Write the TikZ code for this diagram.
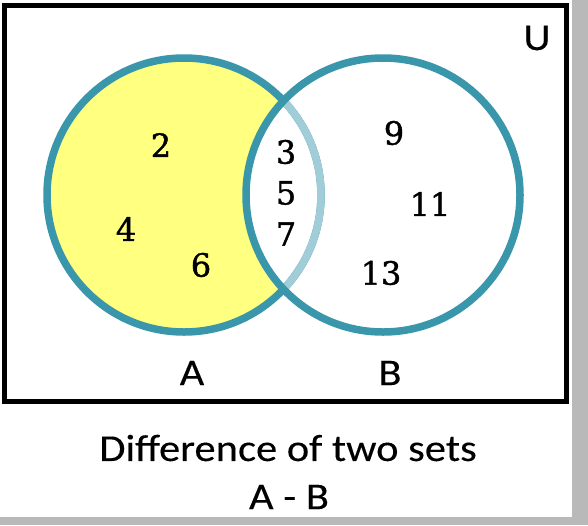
\documentclass[tikz,border=0pt]{standalone}
\usepackage{fontspec}
\setmainfont{Carlito}
\newfontfamily\numfont[FakeBold=1.2]{DejaVu Serif}
\newfontfamily\capfont[FakeStretch=1.12,FakeBold=0.2]{Carlito}
\usepackage{tikz}
\usetikzlibrary{positioning,calc}
\definecolor{setteal}{RGB}{58,150,170}
\definecolor{setlight}{RGB}{160,205,215}
\definecolor{setyellow}{RGB}{255,255,128}
\tikzset{elem/.style={font=\numfont\fontsize{32}{32}\selectfont,inner sep=0pt},
  lbl/.style={font=\capfont\fontsize{38}{38}\selectfont,inner sep=0pt},
  setring/.style={draw=setteal,line width=7.5pt}}

\begin{document}
\begin{tikzpicture}[x=1pt,y=-1pt]
    % page with its shadow
    \fill[gray!55] (0,0) rectangle (588,525);
    \fill[white] (0,0) rectangle (572,517);
    \draw[line width=5pt] (4.5,5) rectangle (566,401);

    \coordinate (cA) at (184,195);
    \coordinate (cB) at (383,195);
    \fill[setyellow] (cA) circle (137pt);
    \fill[white] (cB) circle (137pt);
    \draw[setring] (cA) circle (137pt);
    \begin{scope}
      \clip (cB) circle (137pt);
      \draw[setring,draw=setlight] (cA) circle (137pt);
    \end{scope}
    \draw[setring] (cB) circle (137pt);

    \node[elem] (n2) at (161,145) {2};
    \node[elem] (n4) at (126,229) {4};
    \node[elem] (n6) at (201,265) {6};
    \node[elem] (n3) at (286,152) {3};
    \node[elem] (n5) at (286,193) {5};
    \node[elem] (n7) at (286,234) {7};
    \node[elem] (n9) at (394,133) {9};
    \node[elem] (n11) at (430,204) {11};
    \node[elem] (n13) at (381,273) {13};

    \node[lbl] (U) at (537,38) {U};
    \node[lbl] (A) at (192,373) {A};
    \node[lbl] (B) at (390,373) {B};
    \node[lbl] (title) at (288,448) {Difference of two sets};
    \node[lbl] (AB) at (289,497) {A - B};
\end{tikzpicture}
\end{document}
